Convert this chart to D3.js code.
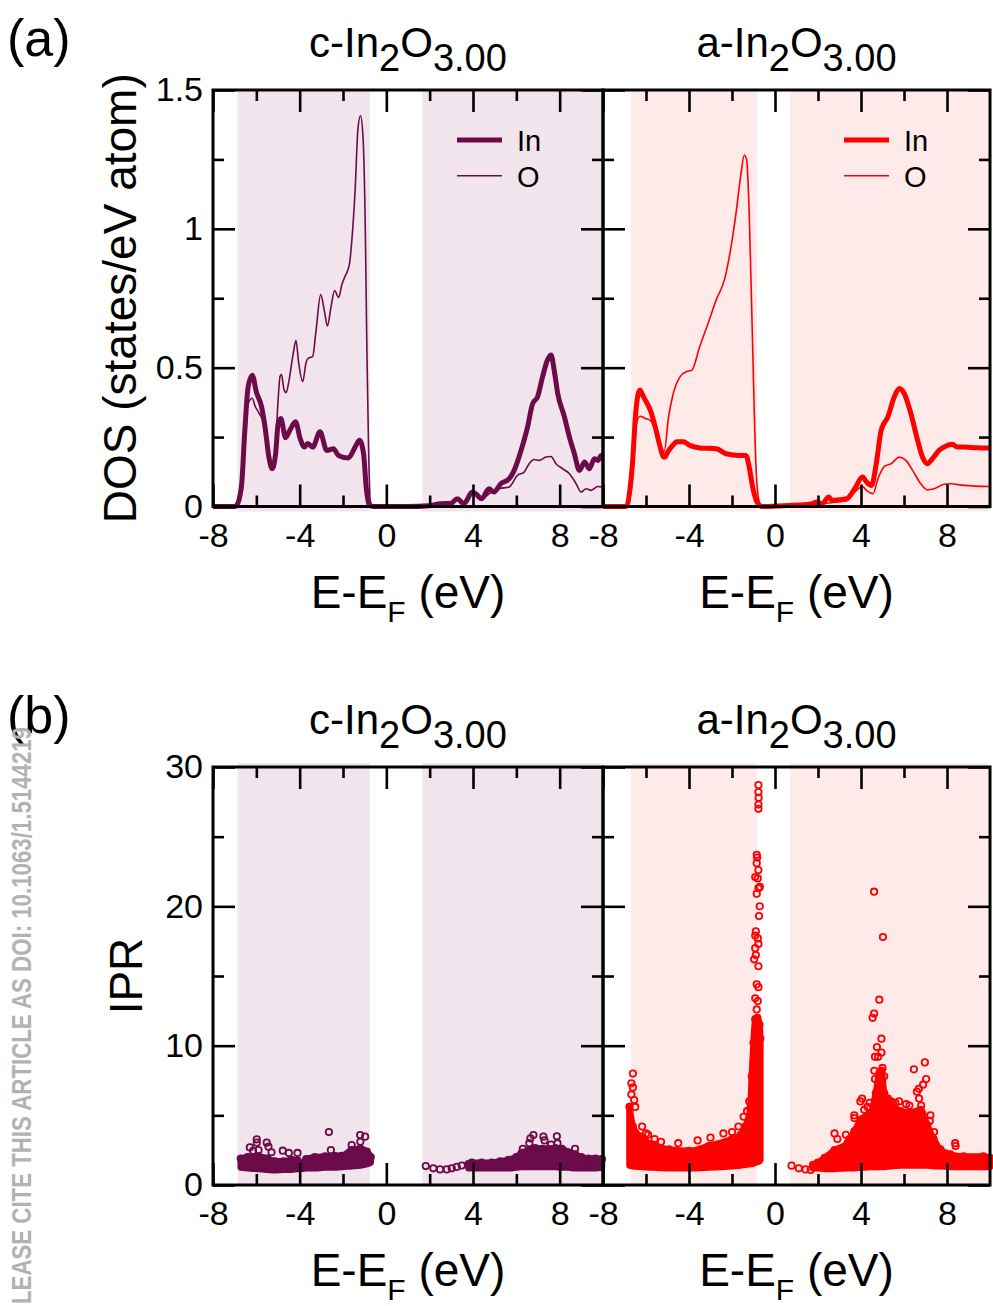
<!DOCTYPE html>
<html><head><meta charset="utf-8">
<script src="https://cdn.jsdelivr.net/npm/d3@7/dist/d3.min.js"></script>
<style>
body{margin:0;background:#fff}
svg{display:block}
text{font-family:"Liberation Sans",Arial,Helvetica,sans-serif;fill:#000}
</style>
</head><body>
<svg id="chart" width="993" height="1306"></svg>
<script>
// ---------------- data ----------------
const energyMajorTicks = [-8, -4, 0, 4, 8];
const energyTickLabels = ["-8", "-4", "0", "4", "8"];
const energyMinorTicks = [-6, -2, 2, 6];
const dosMajorTicks = [0, 0.5, 1, 1.5];
const dosTickLabels = ["0", "0.5", "1", "1.5"];
const dosMinorTicks = [0.25, 0.75, 1.25];
const iprMajorTicks = [0, 10, 20, 30];
const iprTickLabels = ["0", "10", "20", "30"];
const iprMinorTicks = [5, 15, 25];
const seriesNames = ["In", "O"];
const panelLabels = ["(a)", "(b)"];
const sampleTitles = [["c-In", "2", "O", "3.00"], ["a-In", "2", "O", "3.00"]];
const xLabelParts = ["E-E", "F", " (eV)"];
const yLabels = ["DOS (states/eV atom)", "IPR"];
const watermark = "LEASE CITE THIS ARTICLE AS DOI: 10.1063/1.5144219";

// shaded band regions [start, end] in eV
const crystalBands = [[-6.86, -0.67], [1.66, 10]];
const amorphBands = [[-6.69, -0.74], [0.69, 10]];

// DOS: crystalline In (thick)
const cDOS_In = [[-8,0],[-7.0,0],[-6.92,0.003],[-6.69,0.07],[-6.53,0.275],[-6.38,0.43],[-6.19,0.473],[-5.99,0.41],[-5.76,0.36],[-5.6,0.287],[-5.42,0.178],[-5.27,0.136],[-5.11,0.19],[-4.99,0.3],[-4.87,0.317],[-4.65,0.248],[-4.45,0.275],[-4.19,0.305],[-3.98,0.245],[-3.78,0.214],[-3.63,0.227],[-3.4,0.214],[-3.06,0.269],[-2.75,0.202],[-2.44,0.208],[-2.21,0.184],[-1.75,0.175],[-1.44,0.214],[-1.24,0.239],[-1.05,0.19],[-0.93,0.07],[-0.79,0.004],[-0.6,0],[0,0],[1.0,0],[1.96,0.003],[2.5,0.01],[3.0,0.012],[3.27,0.028],[3.58,0.01],[3.97,0.052],[4.12,0.046],[4.4,0.028],[4.74,0.064],[4.97,0.052],[5.28,0.082],[5.67,0.1],[5.9,0.13],[6.21,0.2],[6.52,0.287],[6.75,0.37],[6.98,0.395],[7.21,0.467],[7.44,0.528],[7.6,0.546],[7.75,0.49],[7.91,0.407],[8.22,0.323],[8.45,0.25],[8.68,0.19],[8.91,0.13],[9.15,0.16],[9.37,0.136],[9.6,0.172],[9.76,0.166],[9.92,0.184],[10,0.18]];
// DOS: crystalline O (thin)
const cDOS_O = [[-8,0],[-7.0,0],[-6.92,0.003],[-6.69,0.09],[-6.5,0.3],[-6.38,0.37],[-6.19,0.39],[-6.05,0.36],[-5.9,0.34],[-5.6,0.28],[-5.42,0.18],[-5.27,0.14],[-5.12,0.2],[-5.02,0.35],[-4.9,0.47],[-4.84,0.475],[-4.72,0.42],[-4.62,0.41],[-4.5,0.45],[-4.3,0.55],[-4.17,0.598],[-4.05,0.52],[-3.86,0.45],[-3.7,0.52],[-3.6,0.534],[-3.4,0.54],[-3.25,0.63],[-3.03,0.763],[-2.85,0.7],[-2.72,0.65],[-2.55,0.72],[-2.39,0.778],[-2.2,0.753],[-2.05,0.8],[-1.9,0.83],[-1.71,0.87],[-1.59,0.96],[-1.44,1.14],[-1.31,1.36],[-1.19,1.407],[-1.08,1.335],[-0.97,0.998],[-0.9,0.576],[-0.82,0.21],[-0.74,0.02],[-0.6,0],[1.96,0],[2.5,0.01],[3.0,0.012],[3.27,0.025],[3.58,0.01],[3.97,0.045],[4.12,0.04],[4.4,0.025],[4.74,0.046],[5.2,0.064],[5.67,0.07],[6.05,0.112],[6.36,0.124],[6.59,0.154],[6.83,0.169],[7.06,0.166],[7.37,0.178],[7.6,0.18],[7.83,0.154],[8.14,0.136],[8.45,0.118],[8.76,0.082],[8.99,0.052],[9.22,0.064],[9.45,0.058],[9.76,0.072],[10,0.07]];
// DOS: amorphous In (thick)
const aDOS_In = [[-8,0],[-6.95,0],[-6.87,0.005],[-6.75,0.06],[-6.63,0.154],[-6.48,0.335],[-6.38,0.4],[-6.28,0.42],[-6.15,0.4],[-6.03,0.383],[-5.8,0.347],[-5.57,0.287],[-5.34,0.214],[-5.2,0.18],[-5.11,0.178],[-5.0,0.195],[-4.88,0.208],[-4.7,0.225],[-4.57,0.233],[-4.27,0.233],[-3.96,0.22],[-3.5,0.211],[-2.73,0.208],[-2.27,0.19],[-1.66,0.184],[-1.35,0.184],[-1.2,0.142],[-1.04,0.07],[-0.81,0.012],[-0.6,0],[0.63,0.004],[1.2,0.005],[1.72,0.01],[1.95,0.016],[2.19,0.01],[2.5,0.034],[2.65,0.022],[2.96,0.024],[3.33,0.028],[3.71,0.064],[4.07,0.106],[4.26,0.088],[4.49,0.076],[4.71,0.154],[4.94,0.275],[5.25,0.323],[5.55,0.395],[5.78,0.425],[6.01,0.407],[6.32,0.335],[6.63,0.239],[6.86,0.178],[7.09,0.154],[7.32,0.172],[7.63,0.202],[7.93,0.217],[8.24,0.224],[8.47,0.214],[8.78,0.214],[9.39,0.212],[10,0.211]];
// DOS: amorphous O (thin)
const aDOS_O = [[-8,0],[-6.95,0],[-6.87,0.005],[-6.63,0.094],[-6.48,0.287],[-6.28,0.325],[-6.03,0.317],[-5.8,0.31],[-5.57,0.275],[-5.34,0.214],[-5.15,0.2],[-4.95,0.323],[-4.73,0.407],[-4.42,0.467],[-4.11,0.486],[-3.88,0.49],[-3.5,0.576],[-3.11,0.66],[-2.73,0.745],[-2.35,0.817],[-2.04,0.937],[-1.81,1.058],[-1.58,1.2],[-1.43,1.265],[-1.32,1.25],[-1.2,1.058],[-1.04,0.576],[-0.89,0.154],[-0.74,0.02],[-0.6,0],[3.3,0.02],[3.71,0.052],[4.07,0.072],[4.26,0.058],[4.56,0.046],[4.79,0.1],[5.1,0.145],[5.4,0.154],[5.78,0.178],[6.09,0.166],[6.4,0.13],[6.78,0.082],[7.09,0.06],[7.4,0.064],[7.86,0.08],[8.16,0.082],[8.78,0.076],[10,0.072]];

// IPR: dense clouds as [E, low IPR, high IPR]
const cIPR_cloud = [
 [[-6.72,1.25,1.9],[-6.4,1.2,2.0],[-5.9,1.15,2.05],[-5.5,1.1,1.9],[-5.14,1.05,1.7],[-4.75,1.1,1.7],[-4.37,1.1,1.8],[-4.1,1.15,1.75],[-3.9,1.15,1.5],[-3.7,1.2,1.85],[-3.3,1.2,2.0],[-2.83,1.25,2.05],[-2.4,1.25,2.1],[-2.06,1.3,2.1],[-1.6,1.35,2.5],[-1.2,1.4,2.6],[-0.9,1.5,2.4],[-0.72,1.6,2.0]],
 [[3.79,1.2,1.5],[3.94,1.2,1.6],[4.4,1.2,1.6],[4.87,1.2,1.6],[5.25,1.2,1.7],[5.64,1.2,1.8],[6.0,1.25,2.0],[6.25,1.3,2.3],[6.6,1.3,2.5],[6.87,1.3,2.65],[7.2,1.3,2.6],[7.48,1.3,2.6],[7.8,1.3,2.65],[8.1,1.25,2.6],[8.4,1.25,2.35],[8.71,1.2,2.2],[9.0,1.2,2.0],[9.33,1.2,1.9],[9.65,1.2,1.9],[9.95,1.25,1.85]]
];
// IPR: individual states [E, IPR]
const cIPR_points = [[-5.98,3.28],[-5.98,3.04],[-6.3,2.7],[-5.52,3.04],[-5.44,2.75],[-5.3,2.35],[-4.78,2.46],[-4.5,2.3],[-4.1,2.3],[-2.65,3.8],[-2.56,2.5],[-1.21,3.59],[-0.98,3.47],[-1.2,3.1],[-1.6,2.87],[-6.15,2.45],[-5.9,2.5],
 [1.82,1.36],[2.17,1.2],[2.48,1.12],[2.79,1.12],[3.02,1.2],[3.25,1.3],[3.48,1.4],
 [6.79,3.59],[6.65,3.35],[6.6,3.0],[7.25,3.47],[7.3,3.2],[7.87,3.5],[7.9,3.0],[7.6,2.9],[8.71,2.6],[6.3,2.6]];
const aIPR_cloud = [
 [[-6.77,1.4,5.6],[-6.61,1.35,4.2],[-6.31,1.3,3.5],[-5.69,1.25,2.9],[-4.92,1.2,2.55],[-4.0,1.2,2.45],[-3.08,1.25,2.8],[-2.0,1.35,3.3],[-1.6,1.4,3.6],[-1.38,1.45,4.2],[-1.15,1.5,5.5],[-1.08,1.5,7.8],[-1.0,1.55,10.2],[-0.92,1.6,11.9],[-0.82,1.65,12.0],[-0.72,1.7,11.5],[-0.68,1.8,10.5]],
 [[1.77,1.2,1.45],[2.0,1.2,1.6],[2.31,1.15,1.95],[2.77,1.15,2.5],[3.38,1.2,3.0],[3.69,1.2,3.85],[4.0,1.25,4.7],[4.46,1.3,5.2],[4.69,1.3,6.6],[4.85,1.3,8.0],[4.95,1.3,8.2],[5.08,1.3,6.6],[5.38,1.35,5.9],[5.84,1.4,5.3],[6.3,1.4,5.2],[6.77,1.4,5.4],[7.08,1.4,4.3],[7.38,1.35,3.3],[7.69,1.35,2.55],[8.15,1.3,2.2],[8.77,1.3,2.05],[9.69,1.3,2.05],[10.0,1.3,1.95]]
];
const aIPR_points = [[-0.77,28.7],[-0.77,28.2],[-0.76,27.8],[-0.77,27.3],[-0.77,27.0],[-0.85,23.7],[-0.83,23.5],[-0.85,23.1],[-0.77,22.6],[-0.92,22.1],[-0.8,22.0],[-0.7,21.4],[-0.77,21.3],[-0.85,20.9],[-0.71,20.0],[-0.74,19.3],[-0.89,18.2],[-0.92,17.9],[-0.8,17.7],[-0.77,17.3],[-0.92,17.0],[-0.89,16.5],[-0.97,16.2],[-0.77,15.7],[-0.85,14.4],[-0.77,14.2],[-0.92,13.4],[-0.8,13.2],[-0.85,12.6],
 [-6.61,8.0],[-6.68,7.3],[-6.61,7.0],[-6.68,6.5],[-6.55,6.1],[-6.5,5.6],[-6.18,4.2],[-5.9,3.6],[-1.46,4.9],[-1.7,4.2],[-1.2,6.0],[-2.4,3.7],[-3.6,3.2],[-4.5,3.0],[-5.3,3.1],[-5.6,3.3],[-6.0,3.7],[-3.0,3.4],[-2.0,3.8],[-1.3,5.3],
 [0.77,1.39],[1.11,1.2],[1.42,1.12],[1.66,1.08],
 [4.61,21.05],[5.02,17.8],[4.85,13.3],[4.61,12.3],[4.54,12.0],[4.95,10.5],[4.74,9.9],[4.95,9.5],[4.65,9.2],[4.8,9.2],[4.62,8.2],[5.0,8.4],[4.65,7.6],[5.08,7.8],[6.46,8.3],[6.97,8.8],[7.03,7.6],[6.89,7.2],[6.69,6.9],[6.6,6.7],[4.05,6.2],[3.97,6.0],[4.15,5.4],[3.69,5.0],[3.69,4.8],[2.77,3.7],[2.9,3.3],[3.46,3.3],[8.38,3.0],[8.4,2.8],[7.23,5.0],[5.77,6.0],[6.1,5.8],[5.25,6.2],[5.4,6.0],[5.6,5.9],[6.25,5.7],[6.8,5.7],[6.7,6.2],[4.3,5.6],[4.4,5.9],[3.3,3.6],[7.2,4.6],[7.4,3.8]];

// ---------------- layout ----------------
const svg = d3.select("#chart");
const cols = [
  {x0: 213, x1: 603, color: "#6c0b4a", shade: "#f2e4ec", bands: crystalBands, dosIn: cDOS_In, dosO: cDOS_O, cloud: cIPR_cloud, pts: cIPR_points, title: sampleTitles[0]},
  {x0: 603, x1: 990, color: "#ff0000", shade: "#ffeaea", bands: amorphBands, dosIn: aDOS_In, dosO: aDOS_O, cloud: aIPR_cloud, pts: aIPR_points, title: sampleTitles[1]}
];
const rows = [
  {y0: 90, y1: 506.5, domain: [0, 1.5], major: dosMajorTicks, labels: dosTickLabels, minor: dosMinorTicks},
  {y0: 767, y1: 1185, domain: [0, 30], major: iprMajorTicks, labels: iprTickLabels, minor: iprMinorTicks}
];
const MAJ = 22, MIN = 11, TICKFONT = 34;

rows.forEach((row, ri) => {
  cols.forEach((col, ci) => {
    const x = d3.scaleLinear().domain([-8, 10]).range([col.x0, col.x1]);
    const y = d3.scaleLinear().domain(row.domain).range([row.y1, row.y0]);
    const g = svg.append("g");

    // shaded regions
    g.selectAll("rect.shade").data(col.bands).join("rect")
      .attr("x", d => x(d[0])).attr("width", d => x(d[1]) - x(d[0]) - 2)
      .attr("y", ri === 0 ? row.y0 : row.y0 - 4)
      .attr("height", row.y1 - row.y0 + (ri === 0 ? 5 : 6))
      .attr("fill", col.shade);

    if (ri === 0) {
      const line = d3.line().x(d => x(d[0])).y(d => y(d[1])).curve(d3.curveMonotoneX);
      g.append("path").attr("d", line(col.dosO)).attr("fill", "none")
        .attr("stroke", col.color).attr("stroke-width", 1.6).attr("stroke-linejoin", "round");
      g.append("path").attr("d", line(col.dosIn)).attr("fill", "none")
        .attr("stroke", col.color).attr("stroke-width", 5).attr("stroke-linejoin", "round");
    } else {
      const area = d3.area().x(d => x(d[0])).y0(d => y(d[1])).y1(d => y(d[2])).curve(d3.curveMonotoneX);
      col.cloud.forEach(seg => {
        g.append("path").attr("d", area(seg)).attr("fill", col.color)
          .attr("stroke", col.color).attr("stroke-width", 6.5).attr("stroke-linejoin", "round");
        g.selectAll(null).data(seg).join("circle")
          .attr("cx", d => x(d[0])).attr("cy", d => y(d[2])).attr("r", 3.2)
          .attr("fill", "none").attr("stroke", col.color).attr("stroke-width", 1.8);
      });
      g.selectAll("circle.pt").data(col.pts).join("circle")
        .attr("cx", d => x(d[0])).attr("cy", d => y(d[1])).attr("r", 3.2)
        .attr("fill", "none").attr("stroke", col.color).attr("stroke-width", 1.8);
    }

    // axes (ticks inward)
    const axG = svg.append("g");
    const styleAxis = sel => {
      sel.select(".domain").remove();
      sel.selectAll("line").attr("stroke", "#000").attr("stroke-width", 2.6);
      sel.selectAll("text").attr("font-size", TICKFONT).attr("font-family", '"Liberation Sans",Arial,sans-serif').attr("fill", "#000");
    };
    axG.append("g").attr("transform", `translate(0,${row.y1})`)
      .call(d3.axisBottom(x).tickValues(energyMajorTicks).tickSize(-MAJ).tickPadding(16)
        .tickFormat((d, i) => energyTickLabels[i])).call(styleAxis);
    axG.append("g").attr("transform", `translate(0,${row.y1})`)
      .call(d3.axisBottom(x).tickValues(energyMinorTicks).tickSize(-MIN).tickFormat("")).call(styleAxis);
    axG.append("g").attr("transform", `translate(0,${row.y0})`)
      .call(d3.axisTop(x).tickValues(energyMajorTicks).tickSize(-MAJ).tickFormat("")).call(styleAxis);
    axG.append("g").attr("transform", `translate(0,${row.y0})`)
      .call(d3.axisTop(x).tickValues(energyMinorTicks).tickSize(-MIN).tickFormat("")).call(styleAxis);
    axG.append("g").attr("transform", `translate(${col.x0},0)`)
      .call(d3.axisLeft(y).tickValues(row.major).tickSize(-MAJ).tickPadding(10)
        .tickFormat((d, i) => ci === 0 ? row.labels[i] : "")).call(styleAxis);
    axG.append("g").attr("transform", `translate(${col.x0},0)`)
      .call(d3.axisLeft(y).tickValues(row.minor).tickSize(-MIN).tickFormat("")).call(styleAxis);
    axG.append("g").attr("transform", `translate(${col.x1},0)`)
      .call(d3.axisRight(y).tickValues(row.major).tickSize(-MAJ).tickFormat("")).call(styleAxis);
    axG.append("g").attr("transform", `translate(${col.x1},0)`)
      .call(d3.axisRight(y).tickValues(row.minor).tickSize(-MIN).tickFormat("")).call(styleAxis);
    axG.append("rect").attr("x", col.x0).attr("y", row.y0)
      .attr("width", col.x1 - col.x0).attr("height", row.y1 - row.y0)
      .attr("fill", "none").attr("stroke", "#000").attr("stroke-width", 3);

    // title
    const cx = (col.x0 + col.x1) / 2;
    const t = svg.append("text").attr("x", cx).attr("y", row.y0 - 33)
      .attr("text-anchor", "middle").attr("font-size", 42);
    t.append("tspan").text(col.title[0]);
    t.append("tspan").attr("dy", 14).attr("font-size", 38).text(col.title[1]);
    t.append("tspan").attr("dy", -14).text(col.title[2]);
    t.append("tspan").attr("dy", 14).attr("font-size", 38).text(col.title[3]);

    // x label
    const xl = svg.append("text").attr("x", cx).attr("y", row.y1 + 101)
      .attr("text-anchor", "middle").attr("font-size", 46);
    xl.append("tspan").text(xLabelParts[0]);
    xl.append("tspan").attr("dy", 14).attr("font-size", 30).text(xLabelParts[1]);
    xl.append("tspan").attr("dy", -14).text(xLabelParts[2]);

    // legend
    if (ri === 0) {
      const lx = col.x1 - 146, ly = [140, 175.7];
      seriesNames.forEach((name, i) => {
        svg.append("line").attr("x1", lx).attr("x2", lx + 45).attr("y1", ly[i]).attr("y2", ly[i])
          .attr("stroke", col.color).attr("stroke-width", i === 0 ? 5 : 1.6);
        svg.append("text").attr("x", lx + 60).attr("y", ly[i] + 11).attr("font-size", 29).text(name);
      });
    }
  });

  // panel label and y label
  svg.append("text").attr("x", 7).attr("y", row.y0 - 34).attr("font-size", 52).text(panelLabels[ri]);
  const ymid = (row.y0 + row.y1) / 2;
  svg.append("text").attr("transform", `translate(${ri === 0 ? 136 : 142},${ymid}) rotate(-90)`)
    .attr("text-anchor", "middle").attr("font-size", 46).text(yLabels[ri]);
});

// watermark along the left edge
svg.append("text").attr("transform", "translate(31,1304) rotate(-90)")
  .attr("font-size", 27).attr("font-weight", "bold")
  .attr("textLength", 577).attr("lengthAdjust", "spacingAndGlyphs")
  .style("fill", "#b2b2b2").text(watermark);
</script>
</body></html>
